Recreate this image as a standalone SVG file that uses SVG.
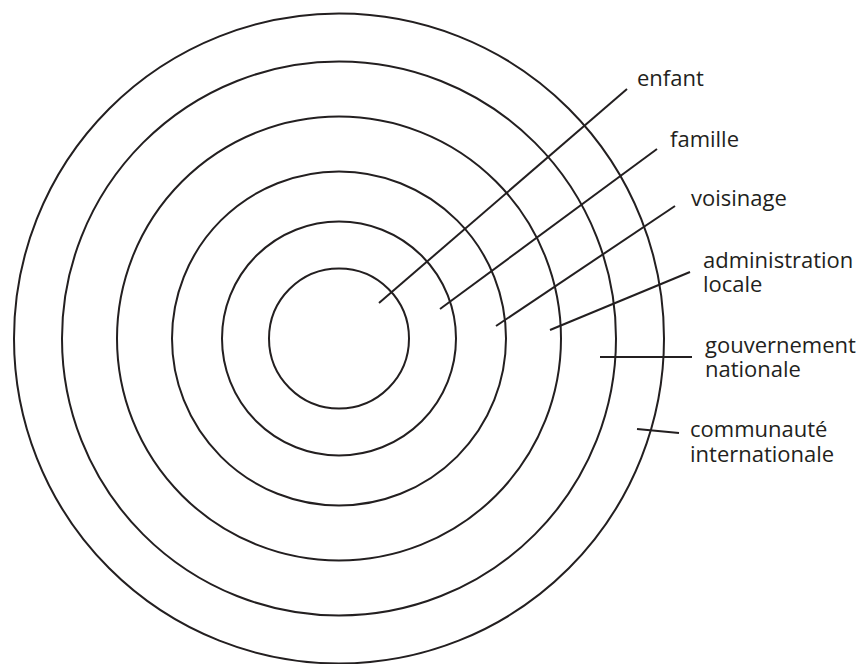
<svg xmlns="http://www.w3.org/2000/svg" width="862" height="664" viewBox="0 0 862 664">
<style>
.ring{fill:none;stroke:#231f20;stroke-width:2}
.lead{stroke:#231f20;stroke-width:2;fill:none}
.lbl{font-family:"Open Sans","Noto Sans","Liberation Sans",sans-serif;font-size:22px;fill:#231f20}
</style>
<rect width="862" height="664" fill="#fff"/>
<g id="rings">
<g id="ring-communaute"><circle class="ring" cx="339" cy="338.5" r="325"/></g>
<g id="ring-gouvernement"><circle class="ring" cx="339" cy="338.5" r="277"/></g>
<g id="ring-administration"><circle class="ring" cx="339" cy="338.5" r="222"/></g>
<g id="ring-voisinage"><circle class="ring" cx="339" cy="338.5" r="167"/></g>
<g id="ring-famille"><circle class="ring" cx="339" cy="338.5" r="117"/></g>
<g id="ring-enfant"><circle class="ring" cx="339" cy="338.5" r="70"/></g>
</g>
<g id="connectors">
<line class="lead" x1="379" y1="303" x2="627" y2="89"/>
<line class="lead" x1="440" y1="309" x2="657" y2="149"/>
<line class="lead" x1="496" y1="326" x2="675" y2="206"/>
<line class="lead" x1="550" y1="330" x2="690" y2="272"/>
<line class="lead" x1="600" y1="357" x2="692" y2="357"/>
<line class="lead" x1="637" y1="429" x2="679" y2="433"/>
</g>
<g id="label-enfant"><text class="lbl" x="637" y="86">enfant</text></g>
<g id="label-famille"><text class="lbl" x="670" y="147">famille</text></g>
<g id="label-voisinage"><text class="lbl" x="691" y="206">voisinage</text></g>
<g id="label-administration"><text class="lbl" x="703" y="268">administration<tspan x="703" dy="24">locale</tspan></text></g>
<g id="label-gouvernement"><text class="lbl" x="705" y="353">gouvernement<tspan x="705" dy="24">nationale</tspan></text></g>
<g id="label-communaute"><text class="lbl" x="690" y="437">communauté<tspan x="690" dy="25">internationale</tspan></text></g>
</svg>
